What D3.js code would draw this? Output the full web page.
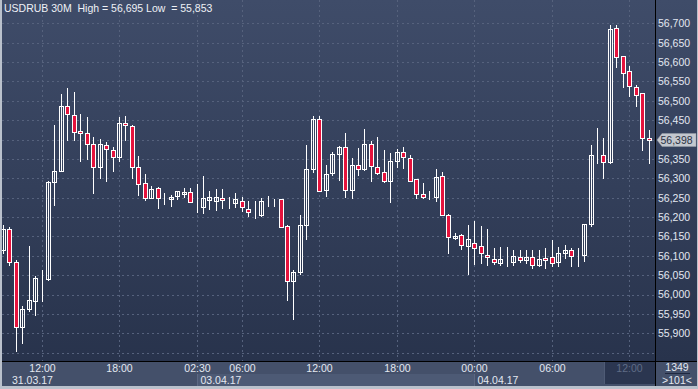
<!DOCTYPE html>
<html>
<head>
<meta charset="utf-8">
<script src="https://cdn.jsdelivr.net/npm/d3@7"></script>
<style>
  body { margin: 0; background: #bac1cc; }
  svg { display: block; }
  text { font-family: "Liberation Sans", Arial, sans-serif; font-size: 10.5px; }
</style>
</head>
<body>
<div id="chart"></div>
<script>
////////////////////////////////////////////////////////////////////////////////
// Data: USDRUB 30 minute candles, 31.03.17 09:00 -> 04.04.17 13:30
var opens  = [56115,56168,56085,55916,55963,55984,56044,56040,56291,56320,
              56487,56464,56422,56416,56388,56329,56385,56372,56354,56442,
              56435,56329,56287,56248,56274,56248,56247,56254,56260,56264,
              56244,56227,56243,56242,56249,56247,56237,56242,56222,56212,
              56206,56245,56246,56246,56177,56036,56057,56179,56323,56453,
              56269,56313,56362,56380,56269,56334,56323,56388,56329,56316,
              56292,56344,56367,56352,56297,56260,56251,56251,56305,56205,
              56145,56153,56125,56134,56126,56103,56091,56082,56084,56085,
              56097,56089,56097,56076,56095,56097,56085,56108,56114,56102,
              56102,56182,56359,56359,56342,56687,56616,56577,56535,56519,
              56403];
var highs  = [56180,56175,56089,55970,56125,56048,56063,56293,56438,56518,
              56534,56522,56466,56458,56406,56401,56394,56382,56459,56461,
              56438,56358,56310,56280,56277,56261,56256,56266,56275,56275,
              56285,56305,56267,56272,56272,56251,56261,56251,56242,56242,
              56248,56254,56247,56247,56179,56063,56205,56386,56461,56461,
              56334,56367,56383,56417,56352,56379,56427,56397,56407,56373,
              56365,56375,56381,56360,56298,56288,56268,56324,56317,56207,
              56160,56155,56179,56190,56176,56168,56119,56124,56122,56114,
              56114,56114,56116,56114,56119,56141,56124,56129,56119,56120,
              56183,56385,56429,56404,56695,56695,56616,56590,56540,56521,
              56424];
var lows   = [56105,56073,55853,55872,55955,55944,55981,56035,56229,56317,
              56395,56397,56341,56346,56259,56299,56291,56317,56341,56395,
              56297,56255,56242,56246,56221,56231,56227,56244,56249,56237,
              56211,56208,56218,56216,56220,56222,56223,56213,56201,56196,
              56201,56226,56226,56175,55984,55934,56050,56141,56313,56266,
              56251,56306,56294,56250,56247,56307,56320,56291,56308,56287,
              56237,56326,56325,56292,56246,56247,56244,56240,56203,56105,
              56141,56114,56051,56075,56080,56073,56075,56073,56072,56073,
              56081,56080,56067,56070,56066,56070,56072,56093,56071,56072,
              56085,56174,56338,56297,56338,56585,56534,56509,56485,56371,
              56337];
var closes = [56170,56085,55916,55964,55987,56044,56044,56290,56319,56487,
              56466,56419,56416,56388,56330,56388,56375,56354,56442,56437,
              56329,56285,56248,56272,56248,56248,56251,56266,56265,56240,
              56244,56249,56251,56251,56243,56247,56247,56225,56214,56212,
              56241,56245,56246,56175,56035,56057,56179,56323,56453,56266,
              56310,56362,56380,56269,56334,56323,56388,56332,56313,56292,
              56344,56367,56354,56294,56259,56253,56251,56303,56205,56148,
              56151,56129,56144,56120,56107,56097,56085,56092,56084,56100,
              56090,56097,56077,56091,56090,56082,56108,56114,56099,56102,
              56182,56359,56359,56341,56685,56614,56573,56537,56516,56403,
              56398];

// time axis labels (candle index -> label)
var time_tick_idx    = [6, 18, 30, 37, 49, 61, 73, 85, 97];
var time_tick_labels = ["12:00","18:00","02:30","06:00","12:00","18:00","00:00","06:00","12:00"];
// date labels (first candle index of each day)
var date_idx    = [0, 30, 73];
var date_labels = ["31.03.17", "03.04.17", "04.04.17"];

// price axis (56,400 sits under the last price marker)
var price_ticks = [55900,55950,56000,56050,56100,56150,56200,56250,56300,
                   56350,56450,56500,56550,56600,56650,56700];
var grid_ticks  = d3.range(55850, 56701, 50);

var title_text = "USDRUB 30M  High = 56,695 Low  = 55,853";
var last_price = 56398;
var bar_count_text = "1349";
var visible_bars_text = ">101<";

////////////////////////////////////////////////////////////////////////////////
// Sizes
var W = 698, H = 389;
var plot = {left: 2, right: 655, top: 0, bottom: 361};
var axis_bottom = 386;

var candles = opens.map(function(o, i){
	return {i: i, o: o, h: highs[i], l: lows[i], c: closes[i]};
});

var x = d3.scaleLinear().domain([0, 100]).range([2.75, 648.7]);
var y = d3.scaleLinear().domain([55900, 56700]).range([333.3, 23.3]);
function cx(i){ return Math.round(x(i)) + 0.5; }

var svg = d3.select('#chart').append('svg')
	.attr('width', W)
	.attr('height', H);

var defs = svg.append('defs');
var grad = defs.append('linearGradient')
	.attr('id', 'bg')
	.attr('x1', 0).attr('y1', 0).attr('x2', 0).attr('y2', 1);
grad.append('stop').attr('offset', '0%').attr('stop-color', '#3f4c69');
grad.append('stop').attr('offset', '100%').attr('stop-color', '#28334c');

defs.append('clipPath').attr('id', 'plotclip')
	.append('rect')
	.attr('x', plot.left).attr('y', plot.top)
	.attr('width', plot.right - plot.left)
	.attr('height', plot.bottom - plot.top);

// outer frame
svg.append('rect').attr('width', W).attr('height', H).attr('fill', '#bac1cc');

// plot + price panel background
svg.append('rect')
	.attr('x', plot.left).attr('y', 0)
	.attr('width', W - plot.left - 1).attr('height', plot.bottom)
	.attr('fill', 'url(#bg)');

////////////////////////////////////////////////////////////////////////////////
// Grid
var grid = svg.append('g').attr('clip-path', 'url(#plotclip)');
grid.selectAll('.hgrid')
	.data(grid_ticks)
	.enter().append('line')
	.attr('x1', plot.left).attr('x2', plot.right)
	.attr('y1', function(d){ return Math.round(y(d)) + 0.5; })
	.attr('y2', function(d){ return Math.round(y(d)) + 0.5; })
	.attr('stroke', '#56627d')
	.attr('stroke-dasharray', '2,3');
grid.selectAll('.vgrid')
	.data(time_tick_idx)
	.enter().append('line')
	.attr('x1', function(d){ return cx(d); })
	.attr('x2', function(d){ return cx(d); })
	.attr('y1', plot.top).attr('y2', plot.bottom)
	.attr('stroke', '#56627d')
	.attr('stroke-dasharray', '2,3');

////////////////////////////////////////////////////////////////////////////////
// Candles
var cg = svg.append('g').attr('clip-path', 'url(#plotclip)');
var bar = cg.selectAll('.candle')
	.data(candles)
	.enter().append('g')
	.attr('class', 'candle');

bar.append('line')
	.attr('x1', function(d){ return cx(d.i); })
	.attr('x2', function(d){ return cx(d.i); })
	.attr('y1', function(d){ return Math.round(y(d.h)); })
	.attr('y2', function(d){ return Math.round(y(d.l)); })
	.attr('stroke', '#ffffff')
	.attr('stroke-width', 1);

bar.append('rect')
	.attr('x', function(d){ return cx(d.i) - 2; })
	.attr('width', 4)
	.attr('y', function(d){ return Math.round(y(Math.max(d.o, d.c))) + 0.5; })
	.attr('height', function(d){
		return Math.round(y(Math.min(d.o, d.c))) - Math.round(y(Math.max(d.o, d.c)));
	})
	.attr('fill', function(d){ return d.c < d.o ? '#e5133d' : '#34405b'; })
	.attr('fill-opacity', function(d){ return d.c < d.o ? 1 : 0; })
	.attr('stroke', '#ffffff')
	.attr('stroke-width', 1);

////////////////////////////////////////////////////////////////////////////////
// Title
svg.append('text')
	.attr('x', 4).attr('y', 11.5)
	.attr('fill', '#eef1f6')
	.attr('xml:space', 'preserve')
	.text(title_text);

////////////////////////////////////////////////////////////////////////////////
// Price axis (right)
svg.append('line')
	.attr('x1', plot.right + 0.5).attr('x2', plot.right + 0.5)
	.attr('y1', 0).attr('y2', axis_bottom)
	.attr('stroke', '#000000');

var yAxis = svg.append('g')
	.attr('transform', 'translate(' + (plot.right + 3) + ',0)')
	.call(d3.axisRight(y).tickValues(price_ticks).tickSize(0).tickPadding(0)
		.tickFormat(function(d){ return d3.format(',')(d); }));
yAxis.select('.domain').remove();
yAxis.selectAll('text')
	.attr('fill', '#e3e8f1')
	.style('font-size', '10.5px')
	.style('font-family', '"Liberation Sans", Arial, sans-serif');

// last price marker
var lp = Math.round(y(last_price));
var marker = svg.append('g');
marker.append('path')
	.attr('d', 'M657,' + lp + ' L662,' + (lp - 6.5) + ' L696,' + (lp - 6.5) +
		' L696,' + (lp + 6.5) + ' L662,' + (lp + 6.5) + ' Z')
	.attr('fill', '#c3c7ce')
	.attr('stroke', '#9aa0aa')
	.attr('stroke-width', 0.5);
marker.append('text')
	.attr('x', 660.5).attr('y', lp + 4)
	.attr('fill', '#2b3345')
	.text(d3.format(',')(last_price));

////////////////////////////////////////////////////////////////////////////////
// Time axis (bottom)
var axisg = svg.append('g');
axisg.append('rect')
	.attr('x', plot.left).attr('y', plot.bottom + 1)
	.attr('width', plot.right - plot.left).attr('height', axis_bottom - plot.bottom - 1)
	.attr('fill', '#44506a');

// shading of the day rows
var day_edges = date_idx.map(function(d){ return d === 0 ? plot.left : cx(d); });
day_edges.push(plot.right);
date_idx.forEach(function(d, k){
	axisg.append('rect')
		.attr('x', day_edges[k]).attr('y', 374)
		.attr('width', day_edges[k + 1] - day_edges[k]).attr('height', axis_bottom - 374)
		.attr('fill', k % 2 === 1 ? '#4d5a75' : '#44506a');
	if (k > 0) {
		axisg.append('line')
			.attr('x1', day_edges[k]).attr('x2', day_edges[k])
			.attr('y1', 374).attr('y2', axis_bottom)
			.attr('stroke', '#5c6883');
	}
});

// dark block after the last visible bar
var dark_x = Math.round(x(93.2));
axisg.append('rect')
	.attr('x', dark_x).attr('y', plot.bottom + 1)
	.attr('width', plot.right - dark_x).attr('height', axis_bottom - plot.bottom - 3)
	.attr('fill', '#2b3650');
axisg.append('line')
	.attr('x1', dark_x - 0.5).attr('x2', dark_x - 0.5)
	.attr('y1', plot.bottom + 1).attr('y2', axis_bottom - 2)
	.attr('stroke', '#4f5b75');

// bottom axis line
svg.append('line')
	.attr('x1', plot.left).attr('x2', W - 1)
	.attr('y1', plot.bottom + 0.5).attr('y2', plot.bottom + 0.5)
	.attr('stroke', '#000000');

axisg.selectAll('.tlabel')
	.data(time_tick_idx)
	.enter().append('text')
	.attr('x', function(d){ return cx(d); })
	.attr('y', 372)
	.attr('text-anchor', 'middle')
	.attr('fill', function(d){ return cx(d) > dark_x ? '#5f6c86' : '#e3e8f1'; })
	.text(function(d, k){ return time_tick_labels[k]; });

axisg.selectAll('.dlabel')
	.data(date_idx)
	.enter().append('text')
	.attr('x', function(d){ return d === 0 ? 12 : cx(d) + 3; })
	.attr('y', 383.5)
	.attr('fill', '#e3e8f1')
	.text(function(d, k){ return date_labels[k]; });

////////////////////////////////////////////////////////////////////////////////
// Bottom-right counter box
var box = svg.append('g');
box.append('rect')
	.attr('x', plot.right + 1).attr('y', plot.bottom + 1)
	.attr('width', W - plot.right - 2).attr('height', axis_bottom - plot.bottom - 1)
	.attr('fill', '#44506a');
box.append('text')
	.attr('x', 677).attr('y', 371)
	.attr('text-anchor', 'middle')
	.attr('fill', '#e3e8f1')
	.text(bar_count_text);
box.append('line')
	.attr('x1', 665).attr('x2', 690)
	.attr('y1', 373.5).attr('y2', 373.5)
	.attr('stroke', '#1f2840');
box.append('text')
	.attr('x', 677).attr('y', 384)
	.attr('text-anchor', 'middle')
	.attr('fill', '#e3e8f1')
	.text(visible_bars_text);
</script>
</body>
</html>
